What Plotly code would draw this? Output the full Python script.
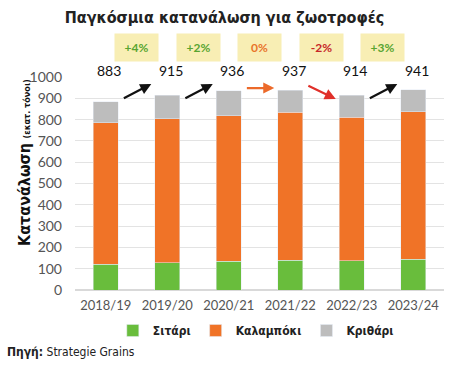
import plotly.graph_objects as go

seasons = ["2018/19", "2019/20", "2020/21", "2021/22", "2022/23", "2023/24"]
wheat = [120, 129, 135, 140, 138, 145]
corn = [665, 674, 682, 694, 674, 692]
barley = [98, 112, 119, 103, 102, 104]
totals = [883, 915, 936, 937, 914, 941]
changes = ["+4%", "+2%", "0%", "-2%", "+3%"]

C_WHEAT = "#69bd3c"
C_CORN = "#f07327"
C_BARLEY = "#bdbdbd"
FONT = "Lato"
COND = "DejaVu Sans Condensed"

fig = go.Figure()
fig.add_bar(x=seasons, y=wheat, name="<b>Σιτάρι</b>", marker_color=C_WHEAT)
fig.add_bar(x=seasons, y=corn, name="<b>Καλαμπόκι</b>", marker_color=C_CORN)
fig.add_bar(x=seasons, y=barley, name="<b>Κριθάρι</b>", marker_color=C_BARLEY)

ann = []
for i, t in enumerate(totals):
    ann.append(dict(x=i + 0.06, y=1.03, xref="x", yref="paper", yanchor="middle",
                    text=str(t), showarrow=False,
                    font=dict(size=14, color="#111", family=FONT)))
for i, c in enumerate(changes):
    if c.startswith("+"):
        col_t, col_a = "#58a531", "#111111"
        y0, y1 = 897, 967
    elif c.startswith("-"):
        col_t, col_a = "#c62828", "#e0302a"
        y0, y1 = 962, 897
    else:
        col_t, col_a = "#e8742a", "#ec6a2a"
        y0, y1 = 948, 948
    ann.append(dict(x=i + 0.5, y=1.14, xref="x", yref="paper", yanchor="middle",
                    text="<b>" + c + "</b>",
                    showarrow=False, bgcolor="#f8eeb4", width=41, height=25,
                    font=dict(size=12, color=col_t, family=FONT)))
    ann.append(dict(x=i + 0.74, y=y1, ax=i + 0.27, ay=y0, xref="x", yref="y",
                    axref="x", ayref="y", showarrow=True, arrowhead=2,
                    arrowsize=1, arrowwidth=2.2, arrowcolor=col_a, text=""))
ann.append(dict(x=-0.17, y=0.6, xref="paper", yref="paper", textangle=-90,
                text="<b>Κατανάλωση</b> <b><span style='font-size:9px'>(εκατ. τόνοι)</span></b>",
                showarrow=False, font=dict(size=16, color="#111", family=COND)))
ann.append(dict(x=-0.19, y=-0.29, xref="paper", yref="paper", xanchor="left",
                yanchor="middle", showarrow=False,
                text="<b>Πηγή:</b> Strategie Grains",
                font=dict(size=12, color="#222", family=COND)))

fig.update_layout(
    barmode="stack",
    bargap=0.59,
    width=449, height=367,
    margin=dict(l=75, r=5, t=77, b=77),
    paper_bgcolor="white", plot_bgcolor="white",
    font=dict(family=FONT, color="#555"),
    title=dict(text="<b>Παγκόσμια κατανάλωση για ζωοτροφές</b>", x=0.5, xanchor="center",
               y=0.953, yanchor="middle",
               font=dict(size=16, color="#222", family=COND)),
    legend=dict(orientation="h", x=0.49, xanchor="center", y=-0.19, yanchor="middle",
                font=dict(size=12, color="#222", family=COND),
                traceorder="normal", itemwidth=30),
    annotations=ann,
    showlegend=True,
)
fig.update_yaxes(range=[0, 1000], dtick=100, gridcolor="#e3e3e3", gridwidth=1,
                 tickfont=dict(size=14, color="#555"), zeroline=True,
                 zerolinecolor="#d9d9d9", ticks="", ticklabelstandoff=12)
fig.update_xaxes(tickfont=dict(size=13, color="#555"), ticklabelstandoff=6)

fig.write_html("out.html", config={"displayModeBar": False},
               post_script="document.body.style.margin='0';")
